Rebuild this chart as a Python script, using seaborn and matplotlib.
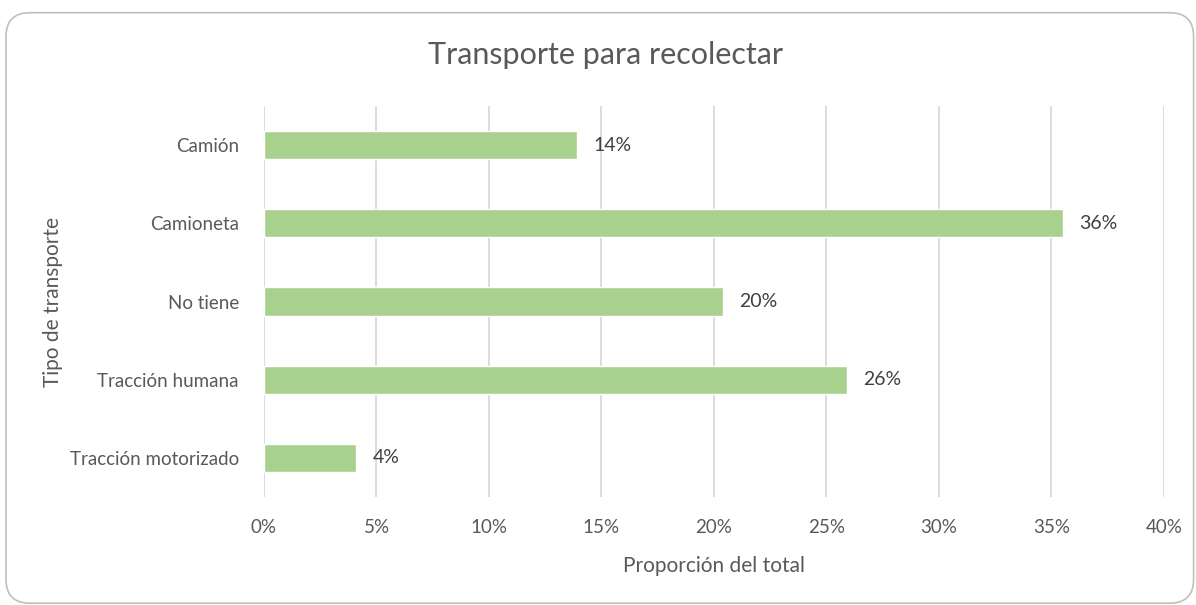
import matplotlib
matplotlib.use("Agg")
import matplotlib.pyplot as plt
from matplotlib.patches import FancyBboxPatch
from matplotlib.ticker import PercentFormatter, MultipleLocator
import seaborn as sns
import pandas as pd

categorias = ["Camión", "Camioneta", "No tiene", "Tracción humana", "Tracción motorizado"]
proporciones = [0.139, 0.355, 0.204, 0.259, 0.041]

df = pd.DataFrame({"tipo": categorias, "proporcion": proporciones})

sns.set_theme(style="white")
plt.rcParams["font.family"] = ["Lato", "DejaVu Sans"]

texto = "#595959"
verde = "#A9D18E"
rejilla = "#D9D9D9"

fig = plt.figure(figsize=(11.96, 6.05), dpi=100)
ax = fig.add_axes([0.2207, 0.1785, 0.7525, 0.6463])

sns.barplot(data=df, x="proporcion", y="tipo", color=verde, width=0.36,
            saturation=1, ax=ax, zorder=3)

ax.set_xlim(0, 0.40)
ax.xaxis.set_major_locator(MultipleLocator(0.05))
ax.xaxis.set_major_formatter(PercentFormatter(1.0, decimals=0))
ax.grid(axis="x", color=rejilla, linewidth=1.3, zorder=0)
ax.grid(axis="y", visible=False)
for s in ax.spines.values():
    s.set_visible(False)
ax.tick_params(axis="both", length=0, labelsize=13.5, colors=texto)
ax.tick_params(axis="x", pad=16)
ax.tick_params(axis="y", pad=18)

for cont in ax.containers:
    ax.bar_label(cont, labels=[f"{v:.0%}" for v in proporciones],
                 padding=12, fontsize=14, color="#404040")

ax.set_xlabel("Proporción del total", fontsize=15, color=texto, labelpad=14)
ax.set_ylabel("Tipo de transporte", fontsize=15, color=texto, labelpad=5)
fig.text(0.506, 0.909, "Transporte para recolectar", ha="center", va="center",
         fontsize=22, color=texto)

marco = FancyBboxPatch((0.005, 0.003), 0.993, 0.976,
                       boxstyle="round,pad=0,rounding_size=0.02",
                       transform=fig.transFigure, fill=False,
                       edgecolor="#BFBFBF", linewidth=1.2,
                       mutation_aspect=1196 / 605)
fig.patches.append(marco)

fig.savefig("out.png", dpi=100, facecolor="white")
